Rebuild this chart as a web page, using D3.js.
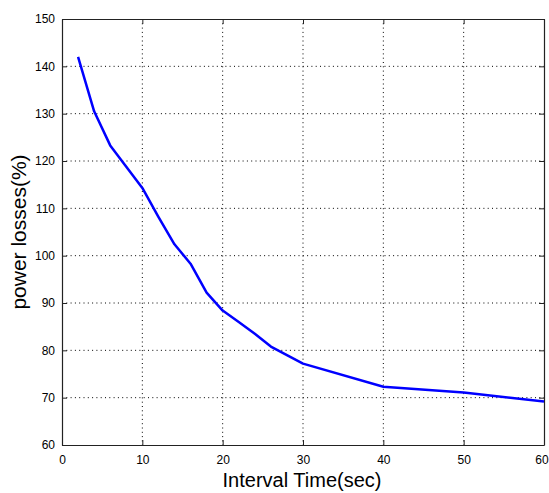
<!DOCTYPE html>
<html>
<head>
<meta charset="utf-8">
<script src="https://cdn.jsdelivr.net/npm/d3@7"></script>
<style>
  body { margin: 0; background: #fff; }
  text { font-family: Arial, "Liberation Sans", sans-serif; fill: #000; }
</style>
</head>
<body>
<div id="chart"></div>
<script>
// interval time (sec) and power losses (%)
var intervalTimes = [2, 4, 6, 8, 10, 12, 14, 16, 18, 20, 22, 24, 26, 28, 30, 40, 50, 60]
var powerLosses = [142, 130.5, 123.3, 118.8, 114.3, 108.2, 102.4, 98.3, 92.2, 88.4, 86, 83.5, 80.8, 79, 77.2, 72.3, 71.1, 69.2]

var xTicks = [0, 10, 20, 30, 40, 50, 60]
var yTicks = [60, 70, 80, 90, 100, 110, 120, 130, 140, 150]

var margin = { top: 19, right: 5, bottom: 48, left: 62 },
    width = 549 - margin.left - margin.right,
    height = 493 - margin.top - margin.bottom;

var svg = d3.select("#chart")
    .append("svg")
    .attr("width", 549)
    .attr("height", 493)
    .append("g")
    .attr("transform", "translate(" + margin.left + "," + margin.top + ")");

var x = d3.scaleLinear().domain([0, 60]).range([0, width])
var y = d3.scaleLinear().domain([60, 150]).range([height, 0])

// dotted grid
svg.append("g")
    .selectAll("line")
    .data(xTicks.slice(1, -1))
    .enter()
    .append("line")
    .attr("x1", d => x(d)).attr("x2", d => x(d))
    .attr("y1", 0).attr("y2", height)
    .attr("stroke", "#000")
    .attr("stroke-width", 1)
    .attr("stroke-dasharray", "1,3.3")

svg.append("g")
    .selectAll("line")
    .data(yTicks.slice(1, -1))
    .enter()
    .append("line")
    .attr("x1", 0).attr("x2", width)
    .attr("y1", d => y(d)).attr("y2", d => y(d))
    .attr("stroke", "#000")
    .attr("stroke-width", 1)
    .attr("stroke-dasharray", "1,3.3")

// axes with inward ticks
var xAxis = svg.append("g")
    .attr("transform", "translate(0," + height + ")")
    .call(d3.axisBottom(x).tickValues(xTicks).tickSize(-5).tickPadding(10).tickSizeOuter(0))
var yAxis = svg.append("g")
    .call(d3.axisLeft(y).tickValues(yTicks).tickSize(-5).tickPadding(7).tickSizeOuter(0))
var xTop = svg.append("g")
    .call(d3.axisTop(x).tickValues(xTicks).tickSize(-5).tickFormat("").tickSizeOuter(0))
var yRight = svg.append("g")
    .attr("transform", "translate(" + width + ",0)")
    .call(d3.axisRight(y).tickValues(yTicks).tickSize(-5).tickFormat("").tickSizeOuter(0))

svg.selectAll(".domain").attr("stroke", "#222").attr("stroke-width", 1.2)
svg.selectAll(".tick line").attr("stroke", "#222")
svg.selectAll(".tick text")
    .attr("font-size", 12)
    .attr("font-family", "Arial, 'Liberation Sans', sans-serif")

// last x label sits at the window edge; nudge it in so it isn't clipped
xAxis.selectAll(".tick text")
    .filter(d => d === 60)
    .attr("dx", -2.5)

// curve
var line = d3.line()
    .x(function (d, i) { return x(intervalTimes[i]) })
    .y(function (d) { return y(d) })

svg.append("path")
    .datum(powerLosses)
    .attr("d", line)
    .attr("fill", "none")
    .attr("stroke", "#0000ff")
    .attr("stroke-width", 2.5)
    .attr("stroke-linejoin", "round")

// labels
svg.append("text")
    .attr("x", width / 2 - 1)
    .attr("y", height + 42)
    .attr("text-anchor", "middle")
    .attr("font-size", 20)
    .text("Interval Time(sec)")

svg.append("text")
    .attr("transform", "translate(" + (26 - margin.left) + "," + (height / 2) + ") rotate(-90)")
    .attr("text-anchor", "middle")
    .attr("font-size", 21)
    .text("power losses(%)")
</script>
</body>
</html>
